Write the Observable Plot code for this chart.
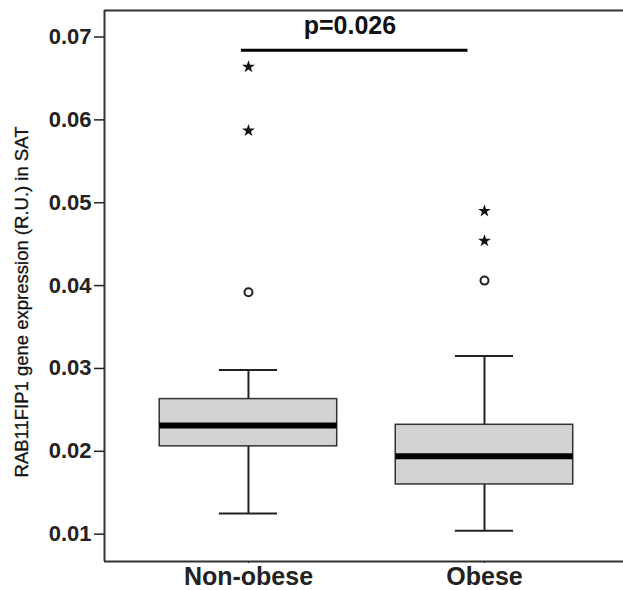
<!DOCTYPE html>
<html><head><meta charset="utf-8">
<script src="https://cdn.jsdelivr.net/npm/d3@7"></script>
<script src="https://cdn.jsdelivr.net/npm/@observablehq/plot@0.6"></script>
<style>body{margin:0;background:#fff}</style>
</head><body><div id="chart"></div>
<script>
// ---- data ----
const groups = ["Non-obese", "Obese"];
const groupPos = [1, 2];
const whiskerLow = [0.0125, 0.0104];
const q1 = [0.0206, 0.0160];
const median = [0.0231, 0.0194];
const q3 = [0.0263, 0.0232];
const whiskerHigh = [0.0298, 0.0315];
// mild outliers (circles)
const circleGroup = [1, 2];
const circleValue = [0.0392, 0.0406];
// extreme outliers (stars)
const starGroup = [1, 1, 2, 2];
const starValue = [0.0664, 0.0587, 0.0490, 0.0454];
const yTicks = [0.01, 0.02, 0.03, 0.04, 0.05, 0.06, 0.07];
const pLabel = "p=0.026";
const sigFrom = 0.97, sigTo = 1.93, sigValue = 0.0684;
const yLabel = "RAB11FIP1 gene expression (R.U.) in SAT";

// ---- build ----
const boxes = groups.map((g, i) => ({g, pos: groupPos[i], lo: whiskerLow[i], q1: q1[i], med: median[i], q3: q3[i], hi: whiskerHigh[i]}));
const circles = circleGroup.map((g, i) => ({pos: g, v: circleValue[i]}));
const stars = starGroup.map((g, i) => ({pos: g, v: starValue[i]}));
const boxHalf = 0.376, capHalf = 0.123;
const xDomain = [0.39, 2.589], yDomain = [0.0067, 0.0732];
const ink = "#222";

const chart = Plot.plot({
  width: 623, height: 590,
  marginLeft: 104, marginRight: 0, marginTop: 10, marginBottom: 29,
  style: {fontFamily: "'Liberation Sans', Arial, sans-serif", background: "#fff", color: ink, overflow: "visible"},
  x: {type: "linear", domain: xDomain},
  y: {domain: yDomain},
  marks: [
    // frame: left, top, bottom
    Plot.ruleX([xDomain[0]], {stroke: "#333", strokeWidth: 2}),
    Plot.ruleY([yDomain[1]], {stroke: "#333", strokeWidth: 2}),
    Plot.ruleY([yDomain[0]], {stroke: "#333", strokeWidth: 2}),
    Plot.axisY({ticks: yTicks, tickFormat: d3.format(".2f"), tickSize: 10, tickPadding: 3, fontSize: 22, fontWeight: "bold", label: null, strokeWidth: 1.5}),
    Plot.axisX({ticks: groupPos, tickFormat: d => groups[d - 1], tickSize: 2, tickPadding: 4, fontSize: 25, fontWeight: "bold", label: null}),
    Plot.text([yLabel], {frameAnchor: "left", text: d => d, rotate: -90, textAnchor: "middle", lineAnchor: "middle", dx: -82, dy: 16, fontSize: 18.5, fill: "#111", stroke: "#111", strokeWidth: 0.3}),
    // whiskers
    Plot.ruleX(boxes, {x: "pos", y1: "q3", y2: "hi", stroke: ink, strokeWidth: 2}),
    Plot.ruleX(boxes, {x: "pos", y1: "lo", y2: "q1", stroke: ink, strokeWidth: 2}),
    Plot.ruleY(boxes, {y: "hi", x1: d => d.pos - capHalf, x2: d => d.pos + capHalf, stroke: ink, strokeWidth: 2}),
    Plot.ruleY(boxes, {y: "lo", x1: d => d.pos - capHalf, x2: d => d.pos + capHalf, stroke: ink, strokeWidth: 2}),
    // boxes
    Plot.rect(boxes, {x1: d => d.pos - boxHalf, x2: d => d.pos + boxHalf, y1: "q1", y2: "q3", fill: "#d3d3d3", stroke: "#333", strokeWidth: 1.5}),
    Plot.ruleY(boxes, {y: "med", x1: d => d.pos - boxHalf, x2: d => d.pos + boxHalf, stroke: "#000", strokeWidth: 6}),
    // outliers
    Plot.dot(circles, {x: "pos", y: "v", r: 4, stroke: ink, strokeWidth: 2, fill: "#fff"}),
    Plot.dot(stars, {x: "pos", y: "v", r: 4, symbol: "star", fill: "#111", stroke: "none"}),
    // significance
    Plot.ruleY([sigValue], {x1: sigFrom, x2: sigTo, stroke: "#000", strokeWidth: 3}),
    Plot.text([pLabel], {x: (sigFrom + sigTo) / 2 - 0.02, y: sigValue, text: d => d, dy: -16, lineAnchor: "bottom", fontSize: 25, fontWeight: "bold", fill: "#111"})
  ]
});
document.getElementById("chart").appendChild(chart);
</script>
</body></html>
